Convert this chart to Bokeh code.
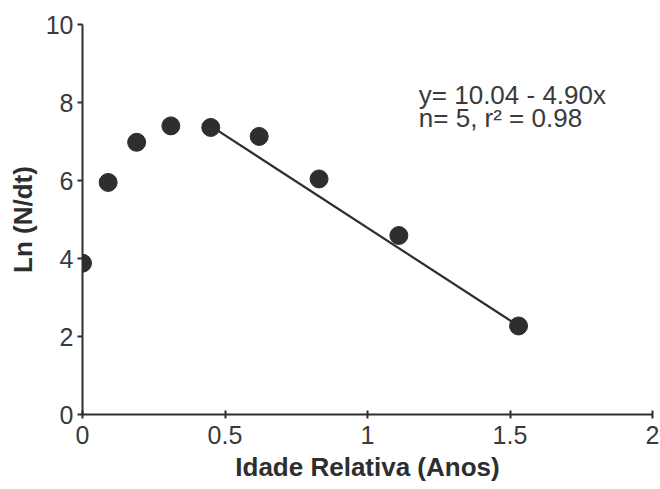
from bokeh.plotting import figure
from bokeh.models import Range1d, FixedTicker, Label, ColumnDataSource
from bokeh.embed import file_html
from bokeh.resources import INLINE

# Data
idade = [0.0, 0.09, 0.19, 0.31, 0.45, 0.62, 0.83, 1.11, 1.53]
ln_n_dt = [3.88, 5.95, 6.98, 7.40, 7.36, 7.13, 6.04, 4.59, 2.27]

fit_x = [0.46, 1.53]
fit_y = [7.35, 2.27]

x_ticks = [0, 0.5, 1, 1.5, 2]
y_ticks = [0, 2, 4, 6, 8, 10]

eq_line1 = "y= 10.04 - 4.90x"
eq_line2 = "n= 5, r\u00b2 = 0.98"

FONT = "Liberation Sans"
INK = "#2e2e2e"
TXT = "#3a3a3a"

p = figure(width=660, height=489, output_backend="svg", toolbar_location=None,
           x_range=Range1d(0, 2), y_range=Range1d(0, 10),
           min_border_left=82, min_border_right=8, min_border_top=24, min_border_bottom=75)
p.outline_line_color = None
p.xgrid.grid_line_color = None
p.ygrid.grid_line_color = None
p.background_fill_color = "white"
p.border_fill_color = "white"

src = ColumnDataSource(dict(x=idade, y=ln_n_dt))
p.line(fit_x, fit_y, line_color=INK, line_width=2.2)
p.scatter("x", "y", source=src, size=18, fill_color=INK, line_color=INK)

for ax in (p.xaxis[0], p.yaxis[0]):
    ax.axis_line_color = INK
    ax.axis_line_width = 2
    ax.major_tick_line_color = INK
    ax.major_tick_line_width = 2
    ax.minor_tick_line_color = None
    ax.major_label_text_font = FONT
    ax.major_label_text_font_size = "25px"
    ax.major_label_text_color = TXT
    ax.axis_label_text_font = FONT
    ax.axis_label_text_font_style = "bold"
    ax.axis_label_text_font_size = "26px"
    ax.axis_label_text_color = INK

p.xaxis.ticker = FixedTicker(ticks=x_ticks)
p.yaxis.ticker = FixedTicker(ticks=y_ticks)
p.xaxis.major_label_overrides = {0: "0", 0.5: "0.5", 1: "1", 1.5: "1.5", 2: "2"}
p.xaxis.major_tick_in = 4
p.xaxis.major_tick_out = 4
p.yaxis.major_tick_in = 0
p.yaxis.major_tick_out = 5
p.xaxis.major_label_standoff = 7
p.yaxis.major_label_standoff = 4
p.xaxis.axis_label = "Idade Relativa (Anos)"
p.yaxis.axis_label = "Ln (N/dt)"
p.xaxis.axis_label_standoff = 5
p.yaxis.axis_label_standoff = 5

p.add_layout(Label(x=1.18, y=8.18, text=eq_line1, text_font=FONT, text_font_size="26px",
                   text_color=TXT, text_baseline="alphabetic"))
p.add_layout(Label(x=1.18, y=7.59, text=eq_line2, text_font=FONT, text_font_size="26px",
                   text_color=TXT, text_baseline="alphabetic"))

open("out.html", "w").write(file_html(p, INLINE))
